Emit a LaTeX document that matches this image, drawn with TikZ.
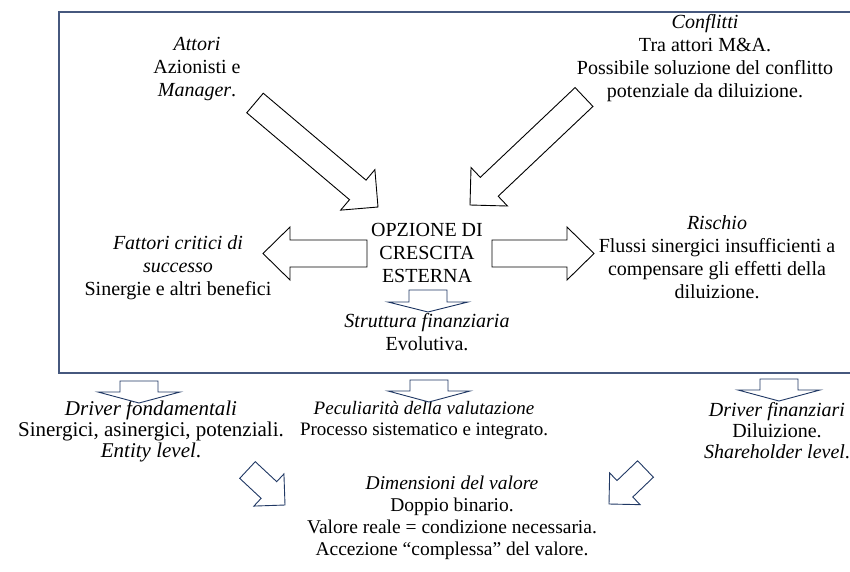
\documentclass[tikz,border=0pt]{standalone}
\usepackage{fontspec}
\setmainfont{Liberation Serif}
\usetikzlibrary{calc}
\definecolor{navy}{RGB}{32,56,100}
\definecolor{framec}{RGB}{70,88,126}
\tikzset{
  txt/.style={align=center, inner sep=0pt, font=\fontsize{20}{23}\selectfont},
  txtb/.style={align=center, inner sep=0pt, font=\fontsize{20}{21}\selectfont},
  txtl/.style={align=center, inner sep=0pt, font=\fontsize{21}{21}\selectfont},
  txtm/.style={align=center, inner sep=0pt, font=\fontsize{19}{21}\selectfont},
  txtc/.style={align=center, inner sep=0pt, font=\fontsize{19.5}{22}\selectfont},
  fatarrow/.style={draw=black, fill=white, line width=0.9pt, line join=miter},
  navyarrow/.style={draw=navy, fill=white, line width=0.9pt, line join=miter},
  framestyle/.style={draw=framec, line width=1.3pt},
}
% style, tail, tip, shaft half-width, head half-width, head length
\newcommand\blockarrow[6]{%
  \path ($(#3)!#6pt!(#2)$) coordinate (bh);
  \draw[#1] ($(#2)!#4pt!90:(#3)$) -- ($(bh)!#4pt!90:(#3)$) -- ($(bh)!#5pt!90:(#3)$)
    -- (#3) -- ($(bh)!#5pt!-90:(#3)$) -- ($(bh)!#4pt!-90:(#3)$)
    -- ($(#2)!#4pt!-90:(#3)$) -- cycle;}
\begin{document}
\begin{tikzpicture}[x=1pt,y=-1pt]
\useasboundingbox (0,0) rectangle (850,571);
% frame (open on the right side, beyond the picture)
\draw[framestyle] (850,12) -- (59,12) -- (59,373) -- (850,373);

% text blocks
\node[txt] (attori) at (197,69) {\textit{Attori}\\Azionisti e\\\textit{Manager}.};
\node[txt] (confl) at (705,58.5) {\textit{Conflitti}\\Tra attori M\&A.\\Possibile soluzione del conflitto\\potenziale da diluizione.};
\node[txt] (opz) at (427,253) {OPZIONE DI\\CRESCITA\\ESTERNA};
\node[txt] (fatt) at (178,268) {\textit{Fattori critici di}\\\textit{successo}\\Sinergie e altri benefici};
\node[txt] (risc) at (717,257.5) {\textit{Rischio}\\Flussi sinergici insufficienti a\\compensare gli effetti della\\diluizione.};
\node[txt] (strut) at (427,332) {\textit{Struttura finanziaria}\\Evolutiva.};
\node[txtl] (drf) at (151,431) {\textit{Driver fondamentali}\\Sinergici, asinergici, potenziali.\\\textit{Entity level}.};
\node[txtm] (pec) at (424,420) {\textit{Peculiarità della valutazione}\\Processo sistematico e integrato.};
\node[txtb] (drfin) at (777,431) {\textit{Driver finanziari}\\Diluizione.\\\textit{Shareholder level}.};
\node[txtc] (dim) at (452,518) {\textit{Dimensioni del valore}\\Doppio binario.\\Valore reale = condizione necessaria.\\Accezione “complessa” del valore.};

% arrow end points
\coordinate (a1t) at (255,103);   \coordinate (a1h) at (378,207);
\coordinate (a2t) at (584,97);    \coordinate (a2h) at (470,205);
\coordinate (a3t) at (367,253.5); \coordinate (a3h) at (263,253.5);
\coordinate (a4t) at (492,253.5); \coordinate (a4h) at (594,253.5);
\coordinate (a5t) at (428,290);   \coordinate (a5h) at (428,312);
\coordinate (b1t) at (139,381);   \coordinate (b1h) at (139,403);
\coordinate (b2t) at (429,380);   \coordinate (b2h) at (429,402);
\coordinate (b3t) at (779,379);   \coordinate (b3h) at (779,401);
\coordinate (d1t) at (247.5,470); \coordinate (d1h) at (285,505);
\coordinate (d2t) at (645.5,469); \coordinate (d2h) at (609,504);

\blockarrow{fatarrow}{a1t}{a1h}{12.8}{26.5}{26.5}
\blockarrow{fatarrow}{a2t}{a2h}{13}{26.5}{26.5}
\blockarrow{fatarrow}{a3t}{a3h}{13.5}{26.5}{27}
\blockarrow{fatarrow}{a4t}{a4h}{13.5}{26.5}{27}
\blockarrow{navyarrow}{a5t}{a5h}{19}{40}{10}
\blockarrow{navyarrow}{b1t}{b1h}{19}{41}{11}
\blockarrow{navyarrow}{b2t}{b2h}{19}{41}{11}
\blockarrow{navyarrow}{b3t}{b3h}{19}{41}{11}
\blockarrow{navyarrow}{d1t}{d1h}{11.4}{22}{22}
\blockarrow{navyarrow}{d2t}{d2h}{11.4}{22}{22}
\end{tikzpicture}
\end{document}
